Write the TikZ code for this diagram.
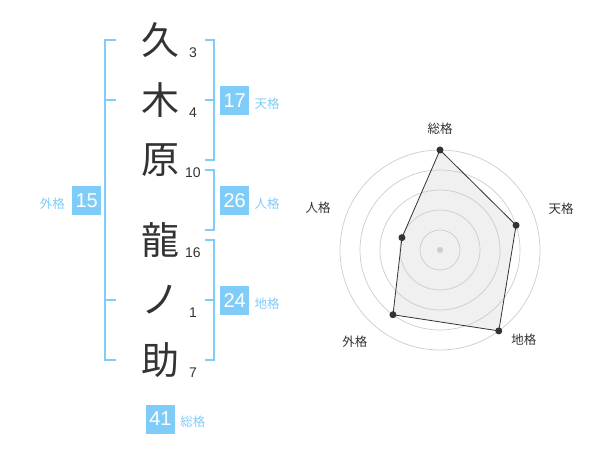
\documentclass[tikz,border=0pt]{standalone}
\usepackage{fontspec}
\setmainfont{Liberation Sans}
\newfontfamily\jp{Noto Sans CJK JP}
\usetikzlibrary{positioning,calc}
\definecolor{kakublue}{HTML}{80CCF8}
\definecolor{ink}{HTML}{333333}
\tikzset{
kanji/.style={font=\jp\fontsize{38}{38}\selectfont, text=ink, inner sep=0pt},
strokes/.style={font=\fontsize{14}{14}\selectfont, text=ink, inner sep=0pt},
kbox/.style={fill=kakublue, text=white, minimum size=29pt, inner sep=0pt,
  font=\fontsize{20}{20}\selectfont},
klabel/.style={font=\jp\fontsize{12.5}{12.5}\selectfont, text=kakublue, inner sep=0pt},
bracket/.style={draw=kakublue, line width=2pt},
ring/.style={draw=black!20, line width=0.7pt},
rlabel/.style={font=\jp\fontsize{12.5}{12.5}\selectfont, text=ink, inner sep=0pt},
%dot/.style={circle, fill=ink, inner sep=0pt, minimum size=7pt}
}

\begin{document}
\begin{tikzpicture}[x=1pt,y=-1pt]
    \useasboundingbox (0,0) rectangle (600,470);
    \foreach \i/\ch/\y/\n in {1/久/40/3, 2/木/100/4, 3/原/160/10, 4/龍/240/16, 5/ノ/300/1, 6/助/360/7}
    {
        \node [kanji] (c\i) at (160,\y) {\ch};
        \node [strokes] (n\i) at (193,\y+13) {\n};
    }
    % brackets
    \draw [bracket] (116,40) -- (105,40) -- (105,360) -- (116,360)
        (105,100) -- (116,100) (105,300) -- (116,300);
    \draw [bracket] (205,40) -- (214,40) -- (214,160) -- (205,160) (205,100) -- (214,100);
    \draw [bracket] (205,170) -- (214,170) -- (214,230) -- (205,230);
    \draw [bracket] (205,240) -- (214,240) -- (214,360) -- (205,360) (205,300) -- (214,300);

    \node [kbox] (ten) at (234.7,100.3) {17};
    \node [klabel, right=5pt of ten, yshift=-3pt] (tenl) {天格};
    \node [kbox] (jin) at (234.7,200.3) {26};
    \node [klabel, right=5pt of jin, yshift=-3pt] (jinl) {人格};
    \node [kbox] (chi) at (234.7,300.3) {24};
    \node [klabel, right=5pt of chi, yshift=-3pt] (chil) {地格};
    \node [kbox] (gai) at (86.7,200.3) {15};
    \node [klabel, left=7pt of gai, yshift=-3pt] (gail) {外格};
    \node [kbox] (sou) at (160.5,419) {41};
    \node [klabel, right=5pt of sou, yshift=-3pt] (soul) {総格};

    % radar
    \begin{scope}[shift={(440,250)}, y=1pt]
        \coordinate (o) at (0,0);
        \foreach \i/\a/\v/\t/\la/\lr in {1/90/100/総格/90/121, 2/18/80/天格/19/128,
            3/-54/100/地格/-47/123, 4/-126/80/外格/-133/125, 5/162/40/人格/161/129}
        {
            \coordinate (p\i) at (\a:\v);
            \node [rlabel] (r\i) at (\la:\lr) {\t};
        }
        \fill [black!6] (p1) -- (p2) -- (p3) -- (p4) -- (p5) -- cycle;
        \foreach \r in {20,40,...,100}
            \draw [ring] (o) circle (\r);
        \fill [black!20] (o) circle (3);
        \draw [ink, line width=0.8pt] (p1) -- (p2) -- (p3) -- (p4) -- (p5) -- cycle;
        \foreach \i in {1,...,5}
            \fill [ink] (p\i) circle (3.5);
    \end{scope}
\end{tikzpicture}
\end{document}
